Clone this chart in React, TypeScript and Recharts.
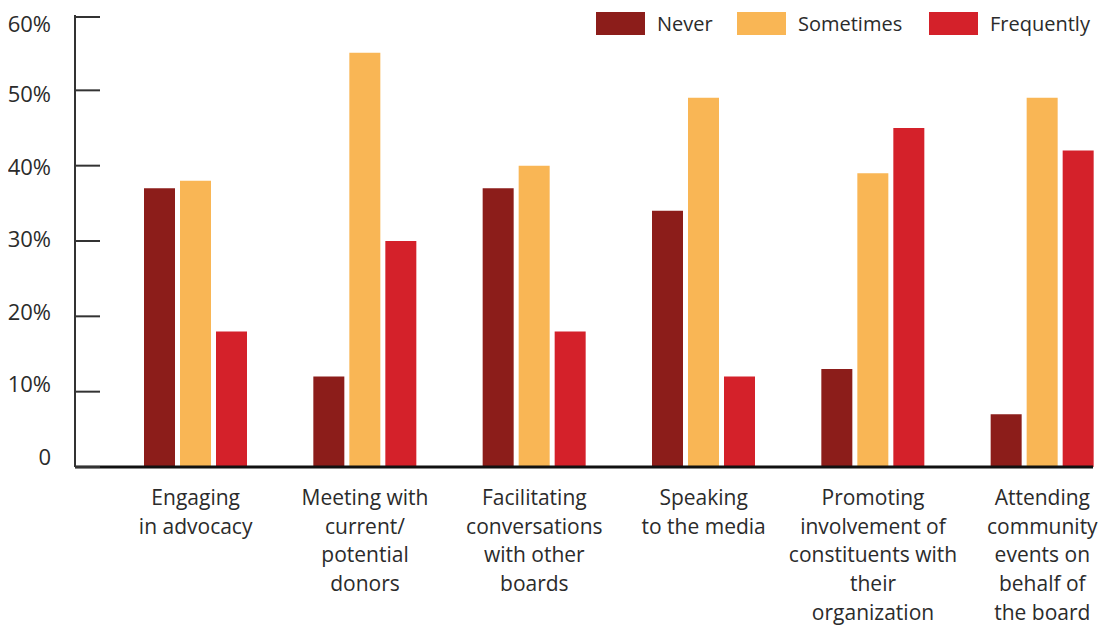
import React from 'react';
import { BarChart, Bar, XAxis, YAxis, Legend } from 'recharts';

const categories = [
  ['Engaging', 'in advocacy'],
  ['Meeting with', 'current/', 'potential', 'donors'],
  ['Facilitating', 'conversations', 'with other', 'boards'],
  ['Speaking', 'to the media'],
  ['Promoting', 'involvement of', 'constituents with', 'their', 'organization'],
  ['Attending', 'community', 'events on', 'behalf of', 'the board'],
];
const never = [37, 12, 37, 34, 13, 7];
const sometimes = [38, 55, 40, 49, 39, 49];
const frequently = [18, 30, 18, 12, 45, 42];
const yTicks = [0, 10, 20, 30, 40, 50, 60];

const series = [
  { key: 'never', name: 'Never', color: '#8c1d1a' },
  { key: 'sometimes', name: 'Sometimes', color: '#f9b655' },
  { key: 'frequently', name: 'Frequently', color: '#d4212a' },
];

const data = categories.map((lines, i) => ({
  name: lines.join(' '),
  never: never[i],
  sometimes: sometimes[i],
  frequently: frequently[i],
}));

const FONT = '"Open Sans", sans-serif';
const TEXT = '#2b2b2b';

const YTick = (props: any) => {
  const { x, y, payload } = props;
  const v = payload.value;
  return (
    <g>
      <line x1={x} y1={y} x2={x + 25} y2={y} stroke="#333" strokeWidth={2} />
      <text x={x - 24} y={y + (v - 40) * 0.28} textAnchor="end" dominantBaseline="central"
        fontFamily={FONT} fontSize={22} fill={TEXT}>
        {v === 0 ? '0' : `${v}%`}
      </text>
    </g>
  );
};

const XTick = (props: any) => {
  const { x, y, index } = props;
  const lines = categories[index] || [];
  return (
    <text x={x} y={y} textAnchor="middle" fontFamily={FONT} fontSize={21} fill={TEXT}>
      {lines.map((l, i) => (
        <tspan key={i} x={x} dy={i === 0 ? 38 : 28.7}>{l}</tspan>
      ))}
    </text>
  );
};

const itemWidths = [141, 192, 170];

const LegendContent = () => (
  <div style={{ display: 'flex', alignItems: 'center', fontFamily: FONT, fontSize: 20, color: TEXT }}>
    {series.map((s, i) => (
      <div key={s.key} style={{ display: 'flex', alignItems: 'center', width: itemWidths[i] }}>
        <span style={{ display: 'inline-block', width: 49, height: 23, background: s.color, marginRight: 12 }} />
        <span style={{ whiteSpace: 'nowrap' }}>{s.name}</span>
      </div>
    ))}
  </div>
);

export default function App() {
  return (
    <div style={{ background: '#fff' }}>
      <BarChart
        width={1098}
        height={627}
        data={data}
        margin={{ top: 7, right: 13, left: 0, bottom: 0 }}
        barGap={5}
        barCategoryGap={33}
      >
        <XAxis
          dataKey="name"
          height={168}
          padding={{ left: 36, right: -34 }}
          axisLine={{ stroke: '#111', strokeWidth: 3 }}
          tickLine={false}
          tickSize={0}
          tickMargin={0}
          interval={0}
          tick={<XTick />}
        />
        <YAxis
          width={67}
          domain={[0, 60]}
          ticks={yTicks}
          axisLine={{ stroke: '#333', strokeWidth: 2 }}
          tickLine={false}
          tickSize={0}
          tickMargin={0}
          tick={<YTick />}
        />
        <Legend
          layout="horizontal"
          verticalAlign="middle"
          align="center"
          content={<LegendContent />}
          wrapperStyle={{ top: 2, left: 588, width: 'auto' }}
        />
        {series.map((s) => (
          <Bar key={s.key} dataKey={s.key} name={s.name} fill={s.color} isAnimationActive={false} />
        ))}
      </BarChart>
    </div>
  );
}
